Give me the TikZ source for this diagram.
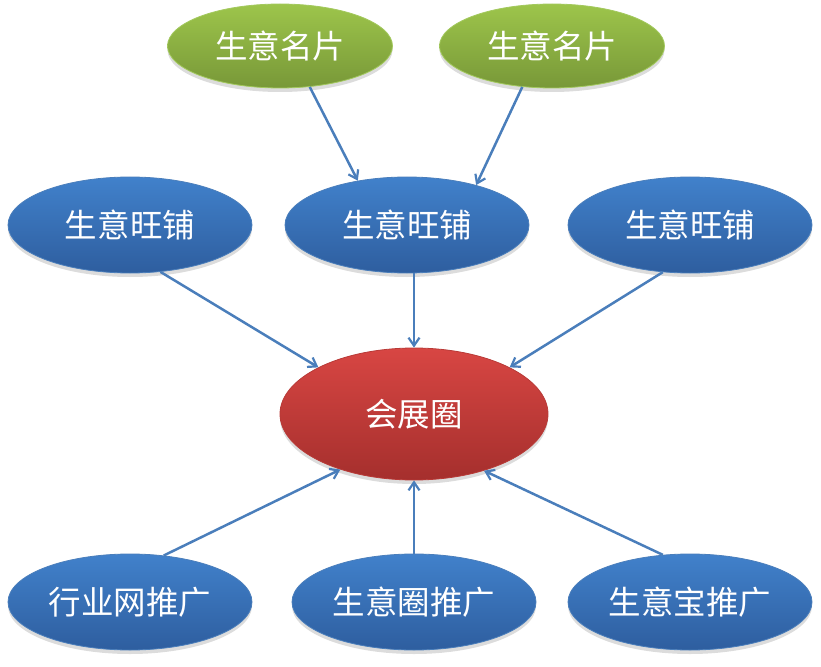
\documentclass[tikz,border=0pt]{standalone}
\usepackage{fontspec}
\newfontfamily\cjk{Noto Sans CJK SC}
\usetikzlibrary{shapes.geometric,arrows.meta,shadows}
\definecolor{bluetop}{HTML}{4181CB}
\definecolor{bluebot}{HTML}{2E5E9F}
\definecolor{blueedge}{HTML}{4A7EBB}
\definecolor{greentop}{HTML}{9DC54B}
\definecolor{greenbot}{HTML}{789838}
\definecolor{greenedge}{HTML}{A3C95E}
\definecolor{redtop}{HTML}{D84643}
\definecolor{redbot}{HTML}{A52F2D}
\definecolor{rededge}{HTML}{B83A37}
\definecolor{arrowc}{HTML}{4A7EBB}
\tikzset{
  oval/.style={ellipse, inner sep=0pt, text=white,
    font=\cjk\fontsize{32.5bp}{38bp}\selectfont,
    drop shadow={opacity=0.28, shadow xshift=0bp, shadow yshift=-4bp}},
  bluenode/.style={oval, minimum width=244bp, minimum height=96bp,
    top color=bluetop, bottom color=bluebot, draw=blueedge, line width=0.8bp},
  greennode/.style={oval, minimum width=225bp, minimum height=84bp,
    top color=greentop, bottom color=greenbot, draw=greenedge, line width=0.8bp},
  rednode/.style={oval, minimum width=268bp, minimum height=132bp,
    top color=redtop, bottom color=redbot, draw=rededge, line width=0.8bp},
  link/.style={draw=arrowc, line width=2.5bp,
    -{Straight Barb[length=8bp,width=11bp,line width=2.2bp]}}
}
\begin{document}
\begin{tikzpicture}[x=1bp,y=-1bp]
\useasboundingbox (0,0) rectangle (821,667);
\node[greennode] (g1) at (280,46) {生意名片};
\node[greennode] (g2) at (552,46) {生意名片};
\node[bluenode] (b1) at (130,225) {生意旺铺};
\node[bluenode] (b2) at (407,225) {生意旺铺};
\node[bluenode] (b3) at (690,225) {生意旺铺};
\node[rednode] (r) at (414,414) {会展圈};
\node[bluenode] (d1) at (130,602) {行业网推广};
\node[bluenode] (d2) at (414,602) {生意圈推广};
\node[bluenode] (d3) at (690,602) {生意宝推广};
\draw[link] (g1.-54) -- (b2.138);
\draw[link] (g2.-126) -- (b2.30);
\draw[link] (b1.-57) -- (r.154);
\draw[link] (r.north |- b2.south) -- (r.north);
\draw[link] (b3.-120) -- (r.26);
\draw[link] (d1.54) -- (r.-143);
\draw[link] (d2.north) -- (r.south);
\draw[link] (d3.120) -- (r.-39);
\end{tikzpicture}
\end{document}
